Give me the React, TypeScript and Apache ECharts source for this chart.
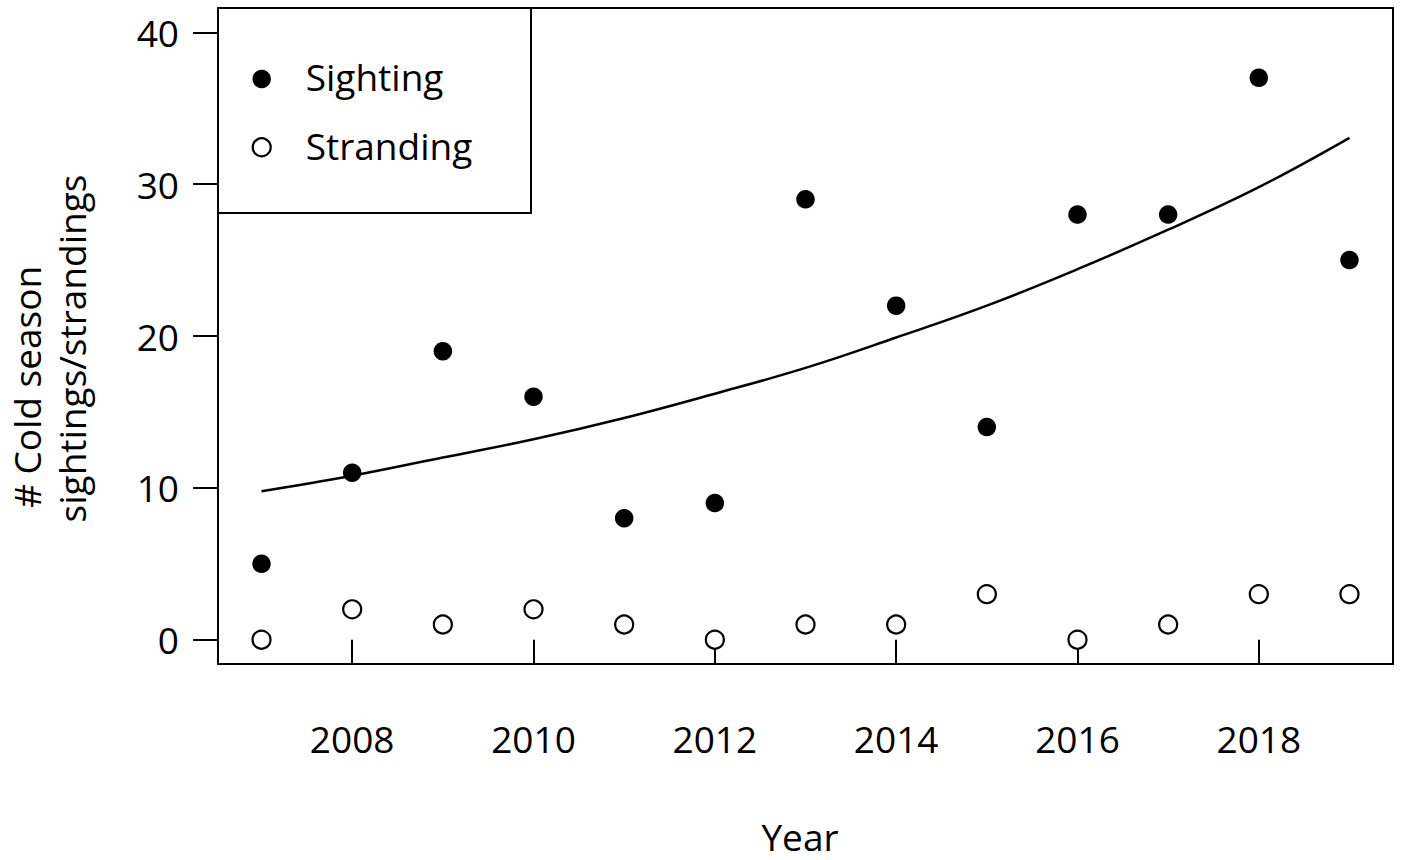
import React, { useEffect, useRef } from "react";
import * as echarts from "echarts";

const years = [2007, 2008, 2009, 2010, 2011, 2012, 2013, 2014, 2015, 2016, 2017, 2018, 2019];
const sightings = [5, 11, 19, 16, 8, 9, 29, 22, 14, 28, 28, 37, 25];
const strandings = [0, 2, 1, 2, 1, 0, 1, 1, 3, 0, 1, 3, 3];
const fitted = [9.78, 10.8, 12.0, 13.2, 14.6, 16.2, 17.9, 19.9, 22.0, 24.4, 27.0, 29.8, 33.05];
const xTicks = [2008, 2010, 2012, 2014, 2016, 2018];
const yTicks = [0, 10, 20, 30, 40];
const legendNames = ["Sighting", "Stranding"];
const yTitleLines = ["# Cold season", "sightings/strandings"];
const xTitle = "Year";

const FONT = "Open Sans";

export default function App() {
  const ref = useRef<HTMLDivElement>(null);
  useEffect(() => {
    if (!ref.current) return;
    const chart = echarts.init(ref.current, null, { renderer: "svg" });
    const pair = (arr: number[]) => years.map((y, i) => [y, arr[i]]);
    chart.setOption({
      animation: false,
      backgroundColor: "#fff",
      textStyle: { fontFamily: FONT, color: "#000" },
      grid: {
        left: 218,
        right: 9,
        top: 8,
        bottom: 196,
        show: true,
        borderColor: "#000",
        borderWidth: 2,
        backgroundColor: "transparent",
      },
      xAxis: {
        type: "value",
        min: 2006.52,
        max: 2019.48,
        axisLine: { show: false },
        splitLine: { show: false },
        axisTick: {
          show: true,
          customValues: xTicks,
          length: 25,
          lineStyle: { color: "#000", width: 2 },
        },
        axisLabel: {
          customValues: xTicks,
          fontSize: 37,
          fontFamily: FONT,
          color: "#000",
          margin: 56,
          formatter: (v: number) => String(Math.round(v)),
        },
      },
      yAxis: {
        type: "value",
        min: -1.6,
        max: 41.6,
        axisLine: { show: false },
        splitLine: { show: false },
        axisTick: {
          show: true,
          customValues: yTicks,
          length: 25,
          lineStyle: { color: "#000", width: 2 },
        },
        axisLabel: {
          customValues: yTicks,
          fontSize: 37,
          fontFamily: FONT,
          color: "#000",
          margin: 39,
          formatter: (v: number) => String(Math.round(v)),
        },
      },
      series: [
        {
          name: "Fit",
          type: "line",
          data: pair(fitted),
          smooth: 0.4,
          showSymbol: false,
          symbol: "none",
          lineStyle: { color: "#000", width: 2.5 },
          z: 2,
          silent: true,
        },
        {
          name: legendNames[0],
          type: "scatter",
          data: pair(sightings),
          symbol: "circle",
          symbolSize: 18.5,
          itemStyle: { color: "#000", opacity: 1 },
          z: 3,
        },
        {
          name: legendNames[1],
          type: "scatter",
          data: pair(strandings),
          symbol: "circle",
          symbolSize: 18,
          itemStyle: { color: "#fff", borderColor: "#000", borderWidth: 2.2, opacity: 1 },
          z: 3,
        },
      ],
      graphic: [
        {
          type: "rect",
          shape: { x: 218, y: 8, width: 313, height: 205 },
          style: { fill: "#fff", stroke: "#000", lineWidth: 2 },
          z: 10,
        },
        {
          type: "circle",
          shape: { cx: 261.7, cy: 79, r: 9.25 },
          style: { fill: "#000" },
          z: 11,
        },
        {
          type: "circle",
          shape: { cx: 261.7, cy: 147.3, r: 9 },
          style: { fill: "#fff", stroke: "#000", lineWidth: 2.2 },
          z: 11,
        },
        {
          type: "text",
          x: 305.7,
          y: 76.5,
          style: {
            text: legendNames[0],
            font: `37px "${FONT}"`,
            fill: "#000",
            align: "left",
            verticalAlign: "middle",
          },
          z: 11,
        },
        {
          type: "text",
          x: 305.7,
          y: 145.6,
          style: {
            text: legendNames[1],
            font: `37px "${FONT}"`,
            fill: "#000",
            align: "left",
            verticalAlign: "middle",
          },
          z: 11,
        },
        {
          type: "text",
          x: 26,
          y: 387,
          rotation: Math.PI / 2,
          style: {
            text: yTitleLines[0],
            font: `37px "${FONT}"`,
            fill: "#000",
            align: "center",
            verticalAlign: "middle",
          },
        },
        {
          type: "text",
          x: 71,
          y: 348.5,
          rotation: Math.PI / 2,
          style: {
            text: yTitleLines[1],
            font: `37px "${FONT}"`,
            fill: "#000",
            align: "center",
            verticalAlign: "middle",
          },
        },
        {
          type: "text",
          x: 800,
          y: 836,
          style: {
            text: xTitle,
            font: `37px "${FONT}"`,
            fill: "#000",
            align: "center",
            verticalAlign: "middle",
          },
        },
      ],
    });
    return () => chart.dispose();
  }, []);
  return (
    <div
      ref={ref}
      style={{ position: "absolute", left: 0, top: 0, width: 1402, height: 860 }}
    />
  );
}
